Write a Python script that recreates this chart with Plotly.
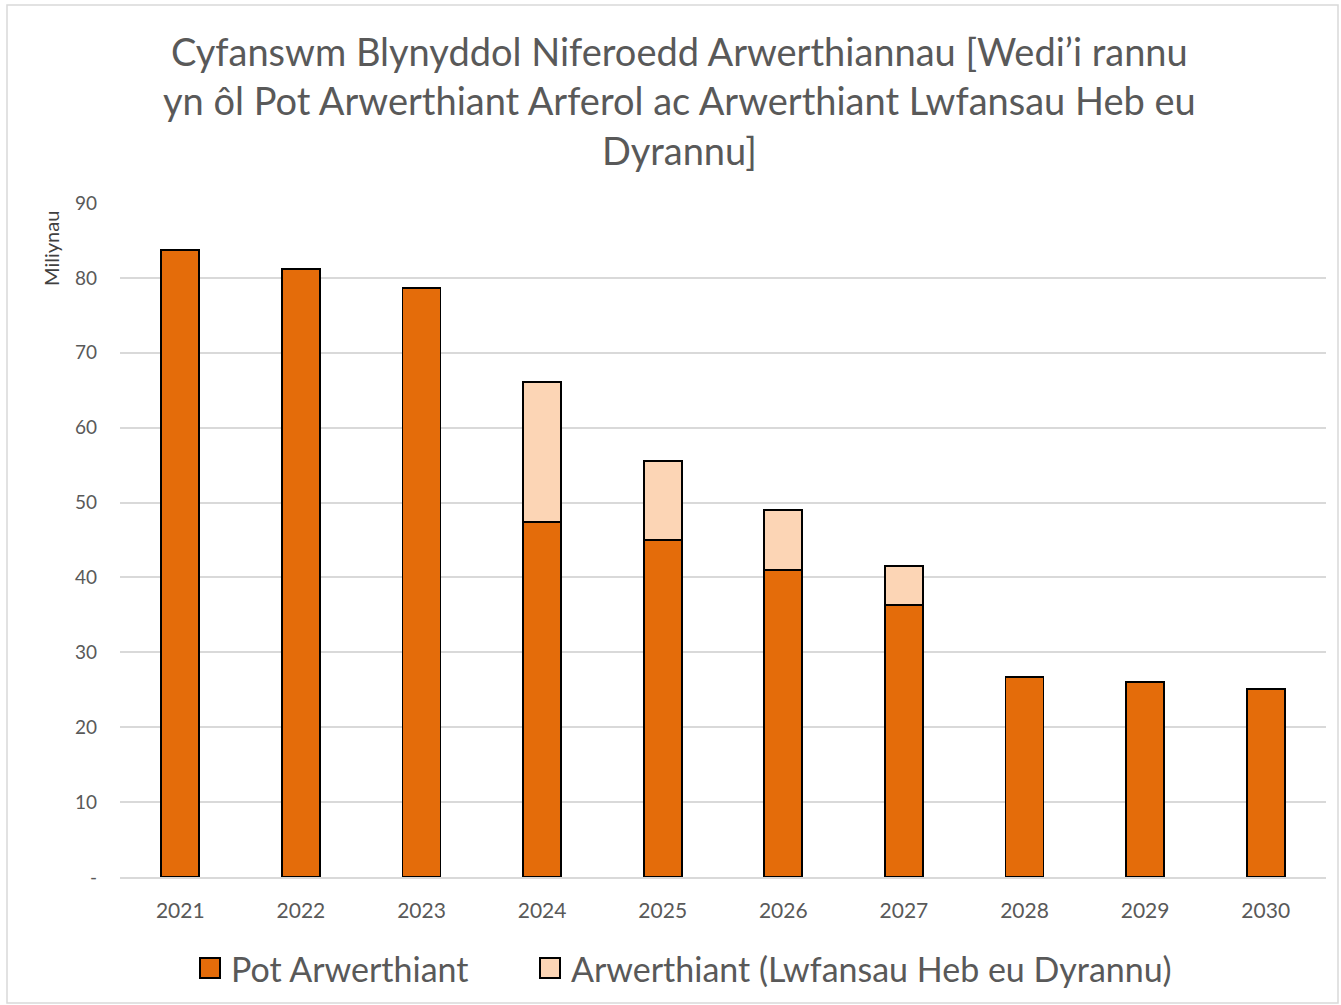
import plotly.graph_objects as go

years = ["2021", "2022", "2023", "2024", "2025", "2026", "2027", "2028", "2029", "2030"]
pot_arwerthiant = [83.7, 81.2, 78.6, 47.4, 45.0, 41.0, 36.3, 26.7, 26.0, 25.1]
lwfansau_heb_dyrannu = [0, 0, 0, 18.7, 10.5, 8.0, 5.2, 0, 0, 0]
y_tick_vals = [0, 10, 20, 30, 40, 50, 60, 70, 80, 90]
y_tick_text = ["-", "10", "20", "30", "40", "50", "60", "70", "80", "90"]
series_names = ["Pot Arwerthiant", "Arwerthiant (Lwfansau Heb eu Dyrannu)"]
series_colors = ["#E46C0A", "#FCD5B5"]

FONT = "Lato, Open Sans, sans-serif"
GREY = "#595959"

W, H = 1341, 1005
L, R, T, B = 120, 15, 203, 128
pw, ph = W - L - R, H - T - B

def px_to_paper_x(px):
    return (px - L) / pw

def px_to_paper_y(py):
    return (H - B - py) / ph

fig = go.Figure()
for name, vals, col in zip(series_names, [pot_arwerthiant, lwfansau_heb_dyrannu], series_colors):
    fig.add_trace(go.Bar(
        x=years, y=vals, name=name,
        marker=dict(color=col, line=dict(color="#000000", width=1.8)),
    ))

fig.update_layout(
    barmode="stack",
    bargap=0.685,
    width=W, height=H,
    margin=dict(l=L, r=R, t=T, b=B),
    paper_bgcolor="white", plot_bgcolor="white",
    font=dict(family=FONT, color=GREY),
    showlegend=False,
    xaxis=dict(
        showgrid=False, showline=True, linecolor="#d9d9d9", linewidth=1.5,
        tickfont=dict(size=21, color=GREY), ticks="", ticklabelstandoff=14,
    ),
    yaxis=dict(
        range=[0, 90], tickvals=y_tick_vals, ticktext=y_tick_text,
        showgrid=True, gridcolor="#d9d9d9", gridwidth=1.5, zeroline=False,
        tickfont=dict(size=19, color=GREY), ticks="", ticklabelstandoff=22,
    ),
)

# Title
fig.add_annotation(
    text="Cyfanswm Blynyddol Niferoedd Arwerthiannau [Wedi’i rannu<br>yn ôl Pot Arwerthiant Arferol ac Arwerthiant Lwfansau Heb eu<br>Dyrannu]",
    showarrow=False, xref="paper", yref="paper",
    x=px_to_paper_x(679), y=px_to_paper_y(100), xanchor="center", yanchor="middle",
    font=dict(family=FONT, size=38, color=GREY),
)

# Y axis title
fig.add_annotation(
    text="Miliynau", textangle=-90, showarrow=False,
    xref="paper", yref="paper",
    x=px_to_paper_x(51), y=px_to_paper_y(249),
    xanchor="center", yanchor="middle",
    font=dict(size=20, color="#404040", family=FONT),
)

# Legend (manual, large square swatches)
legend_sq_x = [200, 540]
legend_y = 968
for name, col, sx in zip(series_names, series_colors, legend_sq_x):
    fig.add_shape(
        type="rect", xref="paper", yref="paper",
        x0=px_to_paper_x(sx), x1=px_to_paper_x(sx + 20),
        y0=px_to_paper_y(legend_y + 10), y1=px_to_paper_y(legend_y - 10),
        fillcolor=col, line=dict(color="#000000", width=2),
    )
    fig.add_annotation(
        text=name, showarrow=False, xref="paper", yref="paper",
        x=px_to_paper_x(sx + 29), y=px_to_paper_y(legend_y),
        xanchor="left", yanchor="middle",
        font=dict(size=34, color=GREY, family=FONT),
    )

# Outer chart border
fig.add_shape(
    type="rect", xref="paper", yref="paper",
    x0=px_to_paper_x(7), x1=px_to_paper_x(1338),
    y0=px_to_paper_y(1003), y1=px_to_paper_y(5),
    line=dict(color="#d9d9d9", width=1.5), fillcolor="rgba(0,0,0,0)", layer="below",
)

fig.write_html(
    "out.html",
    config={"displayModeBar": False},
    post_script="document.body.style.margin='0';document.body.style.overflow='hidden';",
)
